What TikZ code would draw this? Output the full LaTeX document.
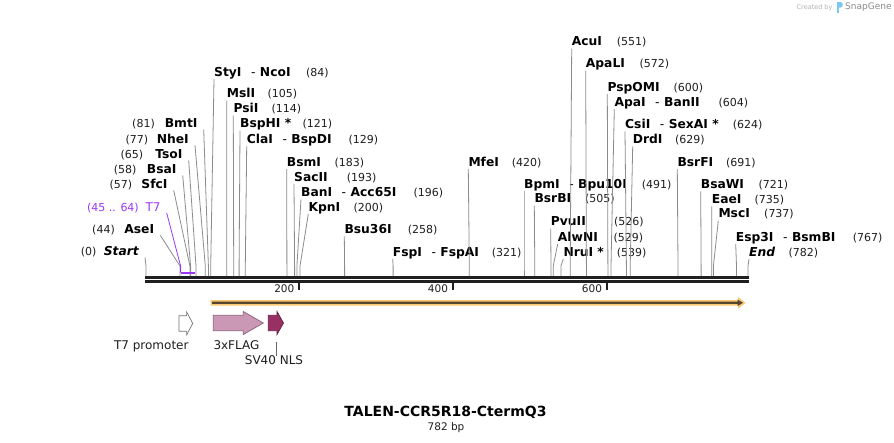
\documentclass[tikz,border=0pt]{standalone}
\usepackage{fontspec}
\setmainfont{DejaVu Sans}
\definecolor{cutgray}{RGB}{140,140,140}
\definecolor{numcol}{RGB}{30,30,30}
\definecolor{t7purple}{RGB}{155,55,245}
\definecolor{orfband}{RGB}{249,200,112}
\definecolor{orfcore}{RGB}{85,70,50}
\definecolor{flagfill}{RGB}{202,152,180}
\definecolor{flagline}{RGB}{140,95,120}
\definecolor{nlsfill}{RGB}{153,48,100}
\definecolor{nlsline}{RGB}{100,30,65}
\definecolor{sgblue}{RGB}{120,200,240}
\tikzset{
  cut/.style={draw=cutgray, line width=0.8pt},
  enz/.style={font=\fontsize{12.3}{14}\selectfont\bfseries, anchor=base west, inner sep=0pt},
  num/.style={font=\fontsize{11}{13}\selectfont, text=numcol, anchor=base west, inner sep=0pt},
  ticklab/.style={font=\fontsize{10.5}{12}\selectfont, text=numcol, anchor=base east, inner sep=0pt},
  featlab/.style={font=\fontsize{12}{14}\selectfont, text=numcol, inner sep=0pt},
  backbone/.style={draw=black!88, line width=2.5pt},
}
\newcommand\RL[7]{%
  \node[enz] (#1) at (#2,#3) {#4};
  \node[num] (#1n) at (#5,#3) {#6};
  \coordinate (#1k) at (#7,266);
  \coordinate (#1s) at (#7,276);
  \draw[cut] ([yshift=-3pt]#1.base west) -- (#1k) -- (#1s);
}
\newcommand\LL[7]{%
  \node[enz, anchor=base east] (#1) at (#2,#3) {#4};
  \node[num, anchor=base east] (#1n) at (#5,#3) {#6};
  \coordinate (#1k) at (#7,266);
  \coordinate (#1s) at (#7,276);
  \draw[cut] ([xshift=6pt,yshift=-2pt]#1.base east) -- (#1k) -- (#1s);
}
\newcommand\sep{\hspace{9.5pt}{\mdseries-}\hspace{4.5pt}}
\begin{document}
\begin{tikzpicture}[x=1pt,y=-1pt]
\fill[white] (0,0) rectangle (894,442);
\useasboundingbox (0,0) rectangle (894,442);

% logo
\node[font=\fontsize{6.5}{8}\selectfont, text=black!30, anchor=west, inner sep=0pt] (cby) at (796.5,7.5) {Created by};
\fill[sgblue] (837,2) rectangle (839,12.5);
\fill[sgblue] (839,2) -- (840.5,2) .. controls (843.5,2) and (843.5,7.5) .. (840.5,7.5) -- (839,7.5) -- cycle;
\node[font=\fontsize{9}{10}\selectfont, text=black!45, anchor=west, inner sep=0pt] (sg) at (845,7.5) {SnapGene};

% backbone
\coordinate (b0) at (145,277.7);
\coordinate (b1) at (749,277.7);
\coordinate (c0) at (145,281.3);
\coordinate (c1) at (749,281.3);
\draw[backbone] (b0) -- (b1);
\draw[backbone] (c0) -- (c1);

% ticks
\foreach \tx/\tl in {299/200, 452.7/400, 606.7/600}{
  \draw[black!88, line width=2pt] (\tx,282) -- (\tx,289.5);
  \node[ticklab] at (\tx-4.5,292) {\tl};
}

% right-side labels
\RL{sty}{214}{76}{StyI\sep NcoI}{306}{(84)}{210.7}
\RL{msl}{226.7}{97.7}{MslI}{267.3}{(105)}{226.8}
\RL{psi}{233.3}{112.7}{PsiI}{271.3}{(114)}{233.7}
\RL{bsph}{240}{127.7}{BspHI *}{302.3}{(121)}{239.1}
\RL{cla}{246.7}{143.3}{ClaI\sep BspDI}{348.3}{(129)}{245.3}
\RL{bsm}{286.7}{166}{BsmI}{334.3}{(183)}{286.9}
\RL{sac}{294}{181}{SacII}{346.7}{(193)}{294.6}
\RL{ban}{301}{196.3}{BanI\sep Acc65I}{413.3}{(196)}{296.9}
\RL{kpn}{308.3}{211}{KpnI}{353.3}{(200)}{300}
\RL{bsu}{344.3}{233.3}{Bsu36I}{407.7}{(258)}{344.6}
\RL{fsp}{392.7}{256}{FspI\sep FspAI}{491.7}{(321)}{393.1}
\RL{mfe}{468.3}{166}{MfeI}{511.7}{(420)}{469.3}
\RL{bpm}{524}{188.3}{BpmI\sep Bpu10I}{641.7}{(491)}{524}
\RL{bsrb}{534.3}{202.7}{BsrBI}{585}{(505)}{534.8}
\RL{pvu}{550.7}{225.7}{PvuII}{614}{(526)}{551}
\RL{alw}{557.7}{241}{AlwNI}{613.3}{(529)}{553.2}
\RL{nru}{563.3}{256}{NruI *}{616.7}{(539)}{560.9}
\RL{acu}{571.7}{45.7}{AcuI}{616.7}{(551)}{570.2}
\RL{apal}{585.7}{67.7}{ApaLI}{639.3}{(572)}{586.4}
\RL{psp}{607.3}{91}{PspOMI}{673.3}{(600)}{607.9}
\RL{apa}{614.3}{106}{ApaI\sep BanII}{718.3}{(604)}{611}
\RL{csi}{625}{128.3}{CsiI\sep SexAI *}{732.7}{(624)}{626.4}
\RL{drd}{632.7}{143.3}{DrdI}{675}{(629)}{630.2}
\RL{bsrf}{677.3}{166}{BsrFI}{726}{(691)}{678}
\RL{bsaw}{700.7}{188.3}{BsaWI}{758.3}{(721)}{701.1}
\RL{eae}{711.7}{203.3}{EaeI}{754.3}{(735)}{711.8}
\RL{msc}{718.3}{217.7}{MscI}{764}{(737)}{713.4}
\RL{esp}{735.7}{241}{Esp3I\sep BsmBI}{852.7}{(767)}{736.5}
\RL{endl}{749}{256}{\itshape End}{788.3}{(782)}{748}

% left-side labels
\LL{start}{139}{255.7}{\itshape Start}{96.7}{(0)}{146}
\LL{ase}{154.3}{233.3}{AseI}{115}{(44)}{180}
\LL{sfc}{167.7}{188.3}{SfcI}{132.3}{(57)}{189.9}
\LL{bsa}{176.7}{173.3}{BsaI}{136.7}{(58)}{190.6}
\LL{tso}{182.7}{158.3}{TsoI}{143.3}{(65)}{196}
\LL{nhe}{189}{143.3}{NheI}{148.3}{(77)}{205.3}
\LL{bmt}{197.7}{127.7}{BmtI}{155}{(81)}{208.4}

% T7 primer
\node[font=\fontsize{12}{14}\selectfont, text=t7purple, anchor=base east, inner sep=0pt] (t7) at (160.7,211) {T7};
\node[num, text=t7purple, anchor=base east] (t7n) at (139,211) {(45 .. 64)};
\coordinate (t7k) at (180.6,266);
\coordinate (t7a) at (180.6,272.7);
\coordinate (t7b) at (195.3,272.7);
\draw[t7purple, line width=0.8pt] ([xshift=6pt,yshift=-2pt]t7.base east) -- (t7k) -- (t7a);
\draw[t7purple, line width=2pt] (t7a) -- (t7b);

% ORF arrow
\fill[orfband] (210.5,300) -- (738,300) -- (738,297) -- (745.5,302.8) -- (738,308.6) -- (738,305.6) -- (210.5,305.6) -- cycle;
\fill[orfcore] (212,301.7) -- (737.5,301.7) -- (737.5,299.6) -- (743,302.8) -- (737.5,306) -- (737.5,303.9) -- (212,303.9) -- cycle;

% features
\draw[draw=black!55, fill=white, line width=0.7pt] (179,315.7) -- (186.6,315.7) -- (186.6,311.8) -- (192.7,323.4) -- (186.6,335) -- (186.6,331.2) -- (179,331.2) -- cycle;
\draw[draw=flagline, fill=flagfill, line width=0.7pt] (213.3,315.3) -- (243.3,315.3) -- (243.3,311.5) -- (263.3,323) -- (243.3,334.5) -- (243.3,330.7) -- (213.3,330.7) -- cycle;
\draw[draw=nlsline, fill=nlsfill, line width=0.7pt] (268.3,315.3) -- (277,315.3) -- (277,311.5) -- (283.5,323) -- (277,334.5) -- (277,330.7) -- (268.3,330.7) -- cycle;

\node[featlab, anchor=base] (t7p) at (151.3,349.3) {T7 promoter};
\node[featlab, anchor=base west] (flag) at (213.3,349.3) {3xFLAG};
\node[featlab, anchor=base] (sv) at (274,364.8) {SV40 NLS};
\coordinate (svtick) at (276,341.5);
\draw[black!60, line width=0.7pt] (svtick) -- (svtick |- sv.north);

% title
\node[font=\fontsize{14}{16}\selectfont\bfseries, anchor=base, inner sep=0pt] (title) at (445.5,416.5) {TALEN-CCR5R18-CtermQ3};
\node[font=\fontsize{10.5}{12}\selectfont, text=numcol, anchor=base, inner sep=0pt] (bp) at (446,430) {782 bp};
\end{tikzpicture}
\end{document}
